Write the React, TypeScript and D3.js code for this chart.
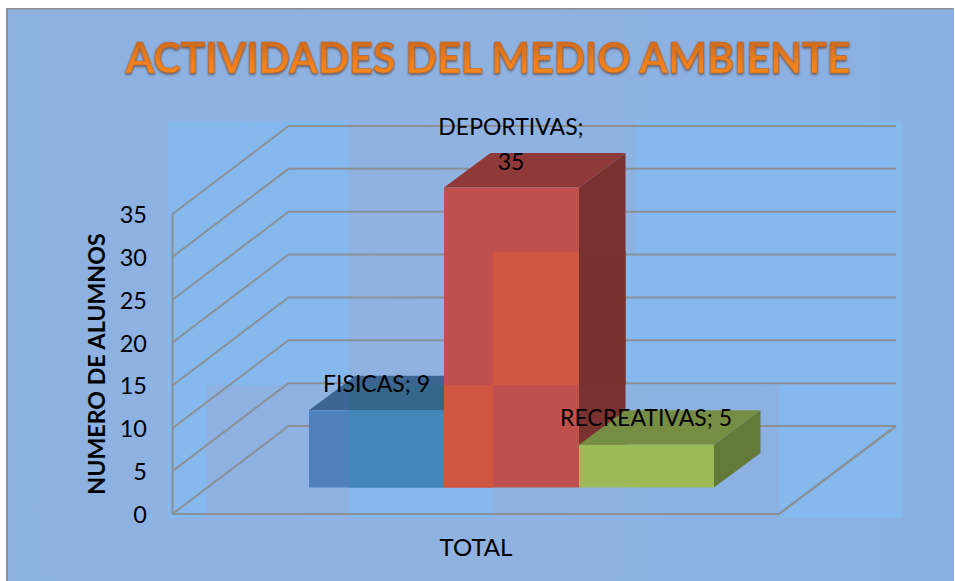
import React from "react";
import * as d3 from "d3";

const categories = ["FISICAS", "DEPORTIVAS", "RECREATIVAS"];
const values = [9, 35, 5];
const yTicks = [0, 5, 10, 15, 20, 25, 30, 35];
const frontColors = ["#4F81BD", "#C0504D", "#9BBB59"];
const topColors = ["#3D6593", "#8F3A39", "#768D44"];
const sideColors = ["#3A5F8C", "#7A3231", "#647A38"];
const frontColorsLight = ["#4187BC", "#CF5640", "#9BBB59"];
const topColorsLight = ["#346789", "#8F3A39", "#768D44"];
const sideColorsLight = ["#345F88", "#773230", "#647A38"];

const W = 955;
const H = 581;
const y = d3.scaleLinear().domain([0, 35]).range([514, 214]);
const x = d3.scaleBand().domain(categories).range([309, 714]).padding(0);
const floorLeft = 172.5;
const floorRight = 779;
const wallDx = 116;
const wallDy = -88;
const wallRight = 896;
const barBase = 487.5;
const barDx = 46.5;
const barDy = -34.5;
const unit = y(0) - y(1);
const lightRects = [
  [168, 121, 181, 264],
  [168, 385, 38, 133],
  [349, 385, 144, 133],
  [493, 252, 410, 133],
  [636, 121, 267, 131],
  [779, 385, 124, 133],
];
const gridGrey = "#8B9097";

function Faces({ front, top, side }: { front: string[]; top: string[]; side: string[] }) {
  return (
    <g>
      {categories.map((c, i) => {
        const x0 = x(c) as number;
        const x1 = x0 + x.bandwidth();
        const yt = barBase - values[i] * unit;
        const pts = (a: number[][]) => a.map((p) => p.join(",")).join(" ");
        return (
          <g key={c}>
            <polygon
              points={pts([[x1, yt], [x1 + barDx, yt + barDy], [x1 + barDx, barBase + barDy], [x1, barBase]])}
              fill={side[i]}
            />
            <polygon
              points={pts([[x0, yt], [x0 + barDx, yt + barDy], [x1 + barDx, yt + barDy], [x1, yt]])}
              fill={top[i]}
            />
            <rect x={x0} y={yt} width={x1 - x0} height={barBase - yt} fill={front[i]} />
          </g>
        );
      })}
    </g>
  );
}

export default function App() {
  const font = "Lato, 'Noto Sans', sans-serif";
  return (
    <svg
      width={W}
      height={H}
      viewBox={`0 0 ${W} ${H}`}
      style={{ position: "absolute", left: 0, top: 0, display: "block" }}
    >
      <defs>
        <linearGradient id="panel" x1="0" y1="0" x2="1" y2="0">
          <stop offset="0" stopColor="#8DB1E1" />
          <stop offset="0.5" stopColor="#8FB2E1" />
          <stop offset="1" stopColor="#8AB0E2" />
        </linearGradient>
        <linearGradient id="titleFill" x1="0" y1="0" x2="0" y2="1">
          <stop offset="0.1" stopColor="#C8651F" />
          <stop offset="0.6" stopColor="#EF7F1E" />
          <stop offset="0.95" stopColor="#F78A1F" />
        </linearGradient>
        <clipPath id="lightClip">
          {lightRects.map((r, i) => (
            <rect key={i} x={r[0]} y={r[1]} width={r[2]} height={r[3]} />
          ))}
        </clipPath>
        <filter id="titleShadow" x="-5%" y="-20%" width="110%" height="150%">
          <feDropShadow dx="0" dy="1.5" stdDeviation="1" floodColor="#5A4A44" floodOpacity="0.85" />
        </filter>
      </defs>
      <rect width={W} height={H} fill="#FFFFFF" />
      <rect x={6} y={8} width={W - 7} height={H - 8} fill={gridGrey} />
      <rect x={8} y={9.5} width={W - 9} height={H - 9.5} fill="url(#panel)" />
      {lightRects.map((r, i) => (
        <rect key={i} x={r[0]} y={r[1]} width={r[2]} height={r[3]} fill="#85B9ED" />
      ))}

      {yTicks.map((t) => (
        <polyline
          key={t}
          points={`${floorLeft},${y(t)} ${floorLeft + wallDx},${y(t) + wallDy} ${wallRight},${y(t) + wallDy}`}
          fill="none"
          stroke={gridGrey}
          strokeWidth={2}
        />
      ))}
      <line x1={floorLeft} y1={y(0)} x2={floorLeft} y2={y(35)} stroke={gridGrey} strokeWidth={2} />
      <polyline
        points={`${floorLeft},${y(0)} ${floorRight},${y(0)} ${wallRight},${y(0) + wallDy}`}
        fill="none"
        stroke={gridGrey}
        strokeWidth={2.2}
      />

      <Faces front={frontColors} top={topColors} side={sideColors} />
      <g clipPath="url(#lightClip)">
        <Faces front={frontColorsLight} top={topColorsLight} side={sideColorsLight} />
      </g>

      {yTicks.map((t) => (
        <text key={t} x={147} y={y(t) + 9} textAnchor="end" fontFamily={font} fontSize={23.5} fill="#000">
          {t}
        </text>
      ))}
      <text
        transform="translate(104.5,364) rotate(-90)"
        textAnchor="middle"
        fontFamily={font}
        fontWeight={700}
        fontSize={23.2}
        fill="#000"
      >
        NUMERO DE ALUMNOS
      </text>
      <text x={476} y={556} textAnchor="middle" fontFamily={font} fontSize={24} fill="#000">
        TOTAL
      </text>

      <text x={323} y={392} fontFamily={font} fontSize={23} fill="#000">{`${categories[0]}; ${values[0]}`}</text>
      <text x={511} y={135} textAnchor="middle" fontFamily={font} fontSize={23} fill="#000">{`${categories[1]};`}</text>
      <text x={511} y={170} textAnchor="middle" fontFamily={font} fontSize={23} fill="#000">{values[1]}</text>
      <text x={560} y={426} fontFamily={font} fontSize={23} fill="#000">{`${categories[2]}; ${values[2]}`}</text>

      <text
        x={488}
        y={73}
        textAnchor="middle"
        fontFamily={font}
        fontWeight={700}
        fontSize={42}
        textLength={725}
        lengthAdjust="spacingAndGlyphs"
        fill="url(#titleFill)"
        stroke="#B5682E"
        strokeWidth={0.6}
        filter="url(#titleShadow)"
      >
        ACTIVIDADES DEL MEDIO AMBIENTE
      </text>
    </svg>
  );
}
